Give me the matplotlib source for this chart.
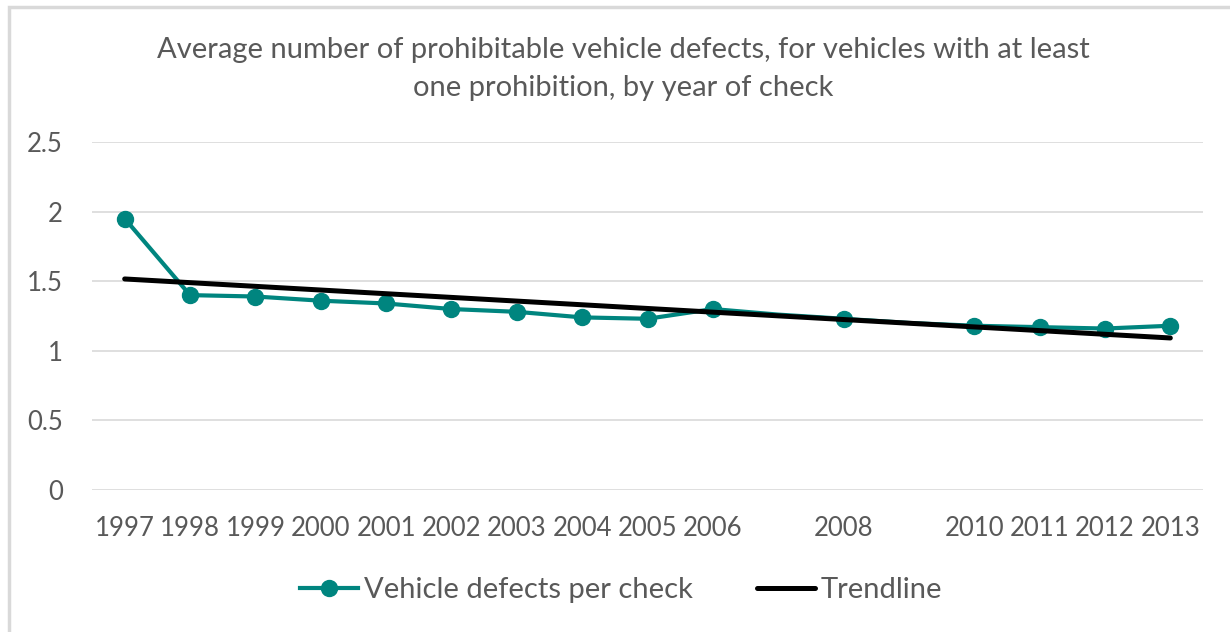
import numpy as np
import matplotlib.pyplot as plt
from matplotlib.patches import Rectangle

plt.rcParams['font.family'] = ['Lato', 'DejaVu Sans']

# ---- data ----
years = [1997, 1998, 1999, 2000, 2001, 2002, 2003, 2004, 2005, 2006,
         2007, 2008, 2009, 2010, 2011, 2012, 2013]
tick_labels = ["1997", "1998", "1999", "2000", "2001", "2002", "2003", "2004",
               "2005", "2006", "", "2008", "", "2010", "2011", "2012", "2013"]
defects = [1.95, 1.40, 1.39, 1.36, 1.34, 1.30, 1.28, 1.24, 1.23, 1.30,
           1.26, 1.23, 1.20, 1.18, 1.17, 1.16, 1.18]
# years with no visible marker in the chart
no_marker = [2007, 2009]

TEAL = "#00857f"
GREY = "#595959"
GRID = "#d9d9d9"

def main():
    fig = plt.figure(figsize=(12.3, 6.32), dpi=100)
    ax = fig.add_axes([92/1230, 1 - 490/632, 1111/1230, 348/632])

    x = np.arange(len(years))
    # linear trendline (least squares, like Excel)
    k, b = np.polyfit(x, defects, 1)
    trend = k * x + b

    marks = [i for i, y in enumerate(years) if y not in no_marker]
    ax.plot(x, defects, color=TEAL, lw=3.0, marker="o", ms=11.5,
            markevery=marks, label="Vehicle defects per check", zorder=3)
    ax.plot(x, trend, color="black", lw=3.6, label="Trendline", zorder=4,
            solid_capstyle="round")

    ax.set_xlim(-0.5, len(years) - 0.5)
    ax.set_ylim(0, 2.5)
    ax.set_yticks([0, 0.5, 1, 1.5, 2, 2.5])
    ax.set_yticklabels(["0", "0.5", "1", "1.5", "2", "2.5"])
    ax.set_xticks(x)
    ax.set_xticklabels(tick_labels)
    ax.tick_params(length=0, labelsize=18.5, colors=GREY)
    ax.tick_params(axis="y", pad=21)
    ax.tick_params(axis="x", pad=19)
    ax.grid(axis="y", color=GRID, lw=1.2)
    ax.set_axisbelow(True)
    for s in ax.spines.values():
        s.set_visible(False)

    fig.text(623/1230, 1 - 50/632,
             "Average number of prohibitable vehicle defects, for vehicles with at least",
             ha="center", va="center", fontsize=21, color=GREY)
    fig.text(623/1230, 1 - 88/632, "one prohibition, by year of check",
             ha="center", va="center", fontsize=21, color=GREY)

    leg = fig.legend(loc="center", bbox_to_anchor=(621/1230, 1 - 590/632),
                     ncol=2, frameon=False, fontsize=21, handlelength=2.0,
                     handletextpad=0.2, columnspacing=2.2)
    for t in leg.get_texts():
        t.set_color(GREY)

    fig.patches.append(Rectangle((9/1230, -0.1), 1.2, 1 - 7/632 + 0.1,
                                 transform=fig.transFigure, fill=False,
                                 edgecolor=GRID, lw=2.5))

    fig.savefig("out.png", dpi=100)
    plt.close(fig)

if __name__ == "__main__":
    main()
